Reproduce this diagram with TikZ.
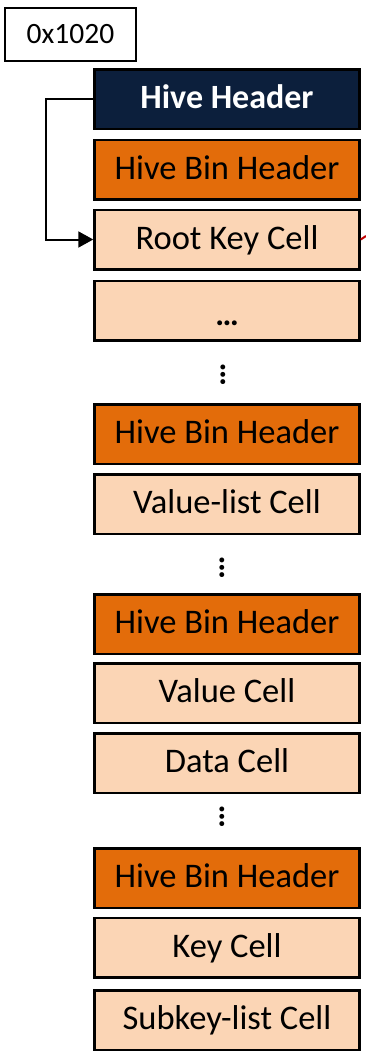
\documentclass[tikz,border=0pt]{standalone}
\usepackage{fontspec}
\setmainfont{Carlito}
\usetikzlibrary{arrows.meta}
\definecolor{navy}{HTML}{0C1F3C}
\definecolor{hbhorange}{HTML}{E36C0A}
\definecolor{peach}{HTML}{FBD5B5}
\definecolor{redline}{HTML}{C00000}
\tikzset{
  cellbox/.style={draw=black, line width=2.5pt, minimum width=265pt, minimum height=59.5pt, inner sep=0pt, text height=24pt, text depth=5pt, font=\fontsize{34.5}{40}\selectfont, text=black},
  hbhbox/.style={cellbox, fill=hbhorange},
  peachbox/.style={cellbox, fill=peach},
  vdots/.style={rotate=90, inner sep=0pt, font=\fontsize{33}{40}\selectfont\bfseries},
}
\begin{document}
\begin{tikzpicture}[x=1pt,y=-1pt]
\useasboundingbox (0,0) rectangle (366,1052);
\node[draw=black, line width=2.5pt, fill=white, minimum width=131pt, minimum height=53pt, inner sep=0pt, font=\fontsize{29.5}{35}\selectfont] (addr) at (70.5,34.5) {0x1020};
\node[cellbox, fill=navy, text=white, font=\fontsize{34}{40}\selectfont\bfseries] (hh) at (227,99) {Hive Header};
\node[hbhbox] (hbh1) at (227,169.5) {Hive Bin Header};
\node[peachbox] (rkc) at (227,239.5) {Root Key Cell};
\node[peachbox, text height=30pt, text depth=0pt, font=\fontsize{33}{40}\selectfont\bfseries] (etc) at (227,310.5) {…};
\node[vdots] (d1) at (223,375) {…};
\node[hbhbox] (hbh2) at (227,434) {Hive Bin Header};
\node[peachbox] (vl) at (227,504) {Value-list Cell};
\node[vdots] (d2) at (222,567.5) {…};
\node[hbhbox] (hbh3) at (227,624) {Hive Bin Header};
\node[peachbox] (vc) at (227,693) {Value Cell};
\node[peachbox] (dc) at (227,763) {Data Cell};
\node[vdots] (d3) at (222,817) {…};
\node[hbhbox] (hbh4) at (227,878) {Hive Bin Header};
\node[peachbox] (kc) at (227,947.5) {Key Cell};
\node[peachbox] (sl) at (227,1020) {Subkey-list Cell};
\draw[line width=2pt, -{Triangle[length=15pt,width=16pt]}] (hh.west) -- (46,99) |- (rkc.west);
\coordinate (redend) at (366,236);
\draw[redline, line width=2pt] (rkc.east) -- (redend);
\end{tikzpicture}
\end{document}
